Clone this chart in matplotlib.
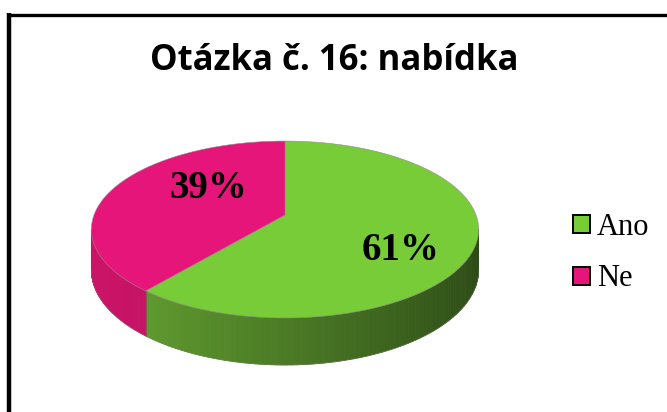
import numpy as np
import matplotlib
matplotlib.use("Agg")
import matplotlib.pyplot as plt
from matplotlib.patches import Polygon, Patch
from matplotlib.lines import Line2D
import matplotlib.colors as mcolors

### Data
labels = ["Ano", "Ne"]
values = [61, 39]
top_colors = ["#78cc38", "#e6157a"]
side_light = ["#6aab34", "#cc1468"]
side_dark = ["#2c4a16", "#a80f55"]
title = "Otázka č. 16: nabídka"

### Layout (pixels) - simple perspective view of a tilted disc
W, H = 667, 412
cx, cy = 285, 215
dist = 6.1      # camera distance in disc radii
kx, ky = 1165, 525
wall = 240      # wall height factor
label_pos = {"Ano": (401, 251), "Ne": (208, 188)}

fig = plt.figure(figsize=(W / 100, H / 100), dpi=100)
ax = fig.add_axes([0, 0, 1, 1])
ax.set_xlim(0, W)
ax.set_ylim(H, 0)
ax.axis("off")


def pt(t):
    z = np.sin(t)
    s = dist + z
    return cx + kx * np.cos(t) / s, cy - ky * z / s


def wall_h(t):
    return wall / (dist + np.sin(t))


### angles: start at 12 o'clock, clockwise
total = float(sum(values))
start = np.pi / 2
ranges = []
for v in values:
    sweep = 2 * np.pi * v / total
    ranges.append((start - sweep, start))
    start -= sweep

### visible part of the wall (between silhouette points)
e = np.arcsin(1.0 / dist)
vis0, vis1 = np.pi + e, 2 * np.pi - e

for i, (t0, t1) in enumerate(ranges):
    lo, hi = t0 % (2 * np.pi), t1 % (2 * np.pi)
    if hi <= lo:
        hi += 2 * np.pi
    s0, s1 = max(lo, vis0), min(hi, vis1)
    if s1 <= s0:
        continue
    n = 90
    ts = np.linspace(s0, s1, n + 1)
    c_light = np.array(mcolors.to_rgb(side_light[i]))
    c_dark = np.array(mcolors.to_rgb(side_dark[i]))
    for k in range(n):
        u0, u1 = ts[k], ts[k + 1]
        x0, y0 = pt(u0)
        x1, y1 = pt(u1)
        f = (np.cos((u0 + u1) / 2) + 1) / 2
        col = c_light * (1 - f) + c_dark * f
        ax.add_patch(Polygon([(x0, y0), (x1, y1), (x1, y1 + wall_h(u1)),
                              (x0, y0 + wall_h(u0))],
                             closed=True, facecolor=col, edgecolor=col, lw=0.6))
    xs, ys = pt(ts)
    ax.plot(xs, ys + wall_h(ts), color="#7a7a7a", lw=0.4, alpha=0.6)

### wall edges at the split
for t0, t1 in ranges:
    for t in (t0, t1):
        tt = t % (2 * np.pi)
        if vis0 < tt < vis1:
            x, y = pt(tt)
            ax.plot([x, x], [y, y + wall_h(tt)], color="#8a3a50", lw=0.5, alpha=0.5)

### top face
for i, (t0, t1) in enumerate(ranges):
    ts = np.linspace(t0, t1, 200)
    xs, ys = pt(ts)
    verts = [(cx, cy)] + list(zip(xs, ys))
    ax.add_patch(Polygon(verts, closed=True, facecolor=top_colors[i],
                         edgecolor="#8c8c8c", lw=0.4))

### data labels
for lab, v in zip(labels, values):
    x, y = label_pos[lab]
    ax.text(x, y, "%d%%" % v, ha="center", va="center", fontsize=28,
            fontweight="bold", family="Liberation Serif", color="black")

### title
ax.text(W / 2 + 1, 70, title, ha="center", va="baseline", fontsize=25,
        fontweight="bold", family="Open Sans", color="black")

### legend
handles = [Patch(facecolor=c, edgecolor="black", lw=1.4) for c in top_colors]
leg = ax.legend(handles, labels, loc="center left",
                bbox_to_anchor=(573 / W, 1 - 253 / H),
                frameon=False, handlelength=0.54, handleheight=0.54,
                handletextpad=0.24, labelspacing=0.75, borderpad=0,
                borderaxespad=0,
                prop={"family": "Liberation Serif", "size": 22})

### chart border (top and left only visible)
fig.add_artist(Line2D([9 / W, 9 / W], [0, 1 - 13 / H], color="black", lw=3.2,
                      transform=fig.transFigure, solid_capstyle="butt"))
fig.add_artist(Line2D([7 / W, 1], [1 - 14.5 / H, 1 - 14.5 / H], color="black", lw=2.4,
                      transform=fig.transFigure, solid_capstyle="butt"))

fig.savefig("out.png", dpi=100, facecolor="white")
